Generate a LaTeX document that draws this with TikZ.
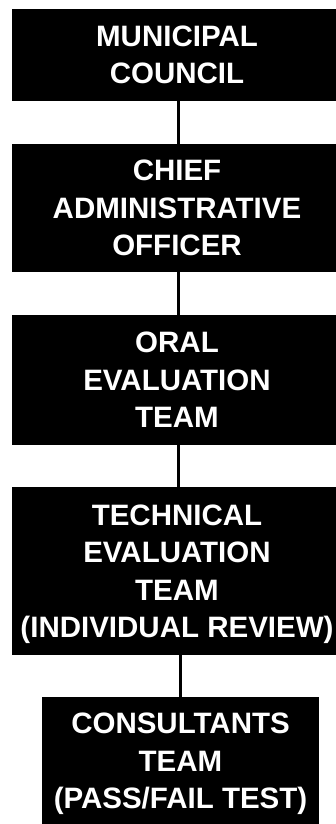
\documentclass[tikz,border=0pt]{standalone}
\usepackage{fontspec}
\setmainfont{Liberation Sans}
\begin{document}
\begin{tikzpicture}[x=1pt,y=-1pt,
  orgbox/.style={rectangle, fill=black, draw=none, text=white, inner sep=0pt,
    align=center, font=\bfseries\fontsize{29.5}{37.5}\selectfont},
  link/.style={draw=black, line width=3pt}]
  \clip (0,0) rectangle (336,824);
  \fill[white] (0,0) rectangle (336,824);
  % chain of command, top to bottom
  \node[orgbox, minimum width=330pt, minimum height=92pt]  (b1) at (177,55)  {MUNICIPAL\\COUNCIL};
  \node[orgbox, minimum width=330pt, minimum height=128pt] (b2) at (177,208) {CHIEF\\ADMINISTRATIVE\\OFFICER};
  \node[orgbox, minimum width=330pt, minimum height=130pt] (b3) at (177,380) {ORAL\\EVALUATION\\TEAM};
  \node[orgbox, minimum width=330pt, minimum height=168pt] (b4) at (177,571) {TECHNICAL\\EVALUATION\\TEAM\\\smash{(INDIVIDUAL REVIEW)}};
  \node[orgbox, minimum width=277pt, minimum height=128pt] (b5) at (180.5,761) {CONSULTANTS\\TEAM\\\smash{(PASS/FAIL TEST)}};
  % connecting lines
  \draw[link] ([xshift=1pt]b1.south) -- ([xshift=1pt]b2.north);
  \draw[link] ([xshift=1pt]b2.south) -- ([xshift=1pt]b3.north);
  \draw[link] ([xshift=1pt]b3.south) -- ([xshift=1pt]b4.north);
  \draw[link] (b5.north |- b4.south) -- (b5.north);
\end{tikzpicture}
\end{document}
